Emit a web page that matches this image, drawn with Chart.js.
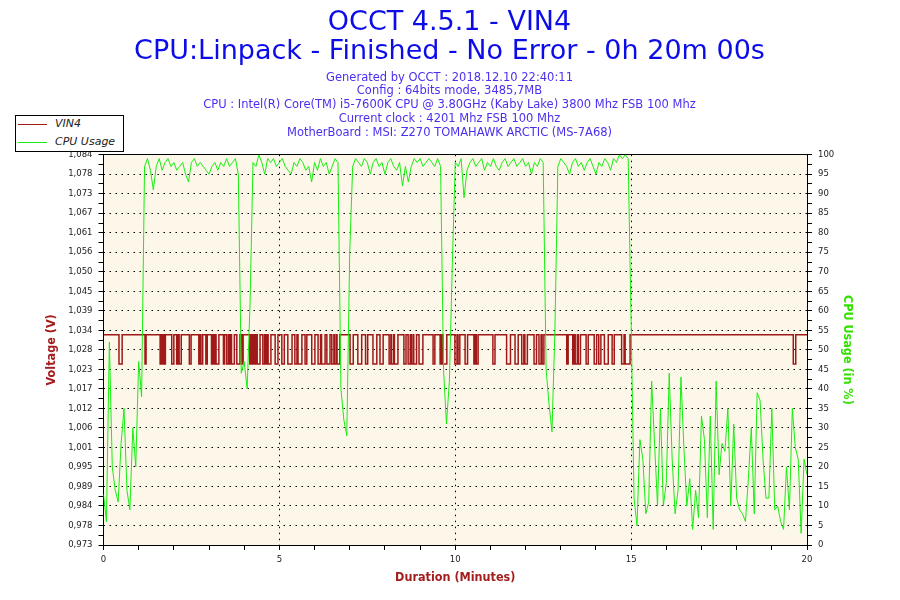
<!DOCTYPE html>
<html>
<head>
<meta charset="utf-8">
<title>OCCT 4.5.1 - VIN4</title>
<script src="https://cdn.jsdelivr.net/npm/chart.js@4.4.1/dist/chart.umd.min.js"></script>
<style>
  html, body { margin: 0; padding: 0; background: #fff; }
  #wrap { position: relative; width: 900px; height: 600px; }
  #legend {
    position: absolute; left: 15px; top: 115px; width: 107px; height: 35px;
    border: 1px solid #000; background: #fff;
    font: italic 11px "DejaVu Sans", sans-serif; color: #222;
  }
  #legend .row { position: absolute; left: 0; width: 100%; height: 14px; line-height: 14px; }
  #legend .swatch { position: absolute; left: 2px; top: 7px; width: 29px; height: 0; border-top: 1px solid; }
  #legend .label { position: absolute; left: 39px; top: 0; white-space: nowrap; }
</style>
</head>
<body>
<div id="wrap">
  <canvas id="vinChart"></canvas>
  <div id="legend">
    <div class="row" style="top:1px"><span class="swatch" style="border-color:#a01818"></span><span class="label">VIN4</span></div>
    <div class="row" style="top:19px"><span class="swatch" style="border-color:#16ee10"></span><span class="label">CPU Usage</span></div>
  </div>
</div>
<script>
// test length in minutes, one CPU sample every 5 seconds
const minutes = 20;
const cpuStepSec = 5;

// CPU usage (%), one row per minute
const cpuUsage = [
  13, 6, 52, 20, 14, 11, 26, 35, 14, 9, 30, 20,
  47, 38, 97, 99, 96, 91, 97, 99, 96, 98, 99, 97,
  98, 96, 97, 98, 95, 93, 98, 99, 97, 98, 97, 96,
  95, 97, 98, 96, 98, 97, 99, 97, 98, 99, 95, 44,
  47, 40, 62, 98, 97, 100, 98, 95, 99, 98, 99, 97,
  98, 99, 97, 96, 95, 98, 97, 99, 98, 96, 97, 93,
  98, 96, 99, 97, 98, 95, 97, 99, 98, 40, 32, 28,
  75, 97, 99, 98, 97, 99, 98, 95, 98, 99, 97, 98,
  95, 98, 99, 97, 96, 98, 92, 97, 93, 97, 99, 98,
  99, 97, 98, 99, 98, 97, 99, 97, 45, 31, 42, 72,
  98, 97, 99, 89, 96, 98, 99, 97, 98, 99, 96, 98,
  97, 99, 97, 96, 98, 99, 97, 98, 99, 97, 98, 99,
  97, 98, 95, 98, 97, 99, 98, 45, 36, 29, 55, 97,
  99, 98, 97, 95, 98, 99, 97, 98, 96, 98, 99, 97,
  95, 98, 97, 99, 98, 96, 99, 98, 100, 99, 100, 99,
  57, 12, 5, 27, 22, 8, 11, 42, 26, 10, 35, 10,
  16, 44, 22, 8, 14, 43, 25, 10, 17, 4, 14, 7,
  33, 27, 7, 33, 4, 42, 18, 26, 24, 35, 10, 31,
  12, 9, 8, 6, 17, 30, 8, 39, 37, 22, 12, 12,
  35, 9, 10, 6, 4, 20, 9, 35, 25, 22, 3, 22,
  18
];

// VIN4 sits at one of two readings; these are the spans (minutes) at the low one
const vinHigh = 1.0326;
const vinLow = 1.0243;
const vinDrops = [
  [0.44, 0.53],
  [1.18, 1.21], [1.61, 1.64], [1.66, 1.69], [1.72, 1.76], [1.94, 2.00],
  [2.08, 2.12], [2.15, 2.21], [2.44, 2.49], [2.71, 2.74], [2.77, 2.82], [2.91, 2.95],
  [3.07, 3.11], [3.13, 3.17], [3.20, 3.28], [3.41, 3.44], [3.50, 3.55], [3.58, 3.62],
  [3.64, 3.72], [3.79, 3.88], [3.93, 3.97],
  [4.16, 4.19], [4.22, 4.26], [4.29, 4.33], [4.37, 4.45], [4.53, 4.58], [4.61, 4.65],
  [4.68, 4.76], [4.88, 4.96],
  [5.07, 5.14], [5.24, 5.36], [5.44, 5.50], [5.53, 5.64], [5.73, 5.78], [5.92, 6.01],
  [6.10, 6.17], [6.20, 6.30], [6.35, 6.44], [6.49, 6.55], [6.57, 6.62], [6.64, 6.72],
  [7.01, 7.10], [7.23, 7.34], [7.45, 7.51], [7.66, 7.77], [7.86, 7.95],
  [8.12, 8.17], [8.19, 8.25], [8.27, 8.37], [8.54, 8.60], [8.66, 8.72], [8.75, 8.80],
  [8.82, 8.90], [8.97, 9.08],
  [9.37, 9.42], [9.57, 9.61], [9.65, 9.76], [9.99, 10.05], [10.08, 10.13], [10.28, 10.35],
  [10.53, 10.57], [10.60, 10.65],
  [11.07, 11.13], [11.46, 11.57], [11.70, 11.79], [11.89, 11.95], [11.98, 12.05],
  [12.24, 12.31], [12.38, 12.44], [12.47, 12.52], [13.17, 13.21], [13.34, 13.38],
  [13.41, 13.47], [13.50, 13.56], [13.72, 13.78], [13.95, 14.02],
  [14.08, 14.14], [14.24, 14.35], [14.46, 14.52], [14.73, 14.80], [14.83, 14.97],
  [19.61, 19.68]
];

// left axis range and its printed labels (bottom to top)
const voltMin = 0.9728;
const voltMax = 1.0838;
const voltTickLabels = [
  "0,973", "0,978", "0,984", "0,989", "0,995", "1,001", "1,006", "1,012", "1,017", "1,023",
  "1,028", "1,034", "1,039", "1,045", "1,050", "1,056", "1,061", "1,067", "1,073", "1,078", "1,084"
];

const titleLines = ["OCCT 4.5.1 - VIN4", "CPU:Linpack - Finished - No Error - 0h 20m 00s"];
const infoLines = [
  "Generated by OCCT : 2018.12.10 22:40:11",
  "Config : 64bits mode, 3485,7MB",
  "CPU : Intel(R) Core(TM) i5-7600K CPU @ 3.80GHz (Kaby Lake) 3800 Mhz FSB 100 Mhz",
  "Current clock : 4201 Mhz FSB 100 Mhz",
  "MotherBoard : MSI: Z270 TOMAHAWK ARCTIC (MS-7A68)"
];

const cpuPoints = cpuUsage.map((v, i) => ({ x: (i * cpuStepSec) / 60, y: v }));
const vinPoints = [{ x: 0, y: vinHigh }];
vinDrops.forEach(([a, b]) => {
  vinPoints.push({ x: a, y: vinLow }, { x: b, y: vinHigh });
});
vinPoints.push({ x: minutes, y: vinHigh });

const tickFont = { family: "DejaVu Sans", size: 8.5 };
const axisTitleFont = { family: "'Liberation Sans Narrow', 'DejaVu Sans Condensed', 'DejaVu Sans'", size: 12.5, weight: "bold" };
const dotted = [1.5, 4.5];
const clear = "rgba(0,0,0,0)";

// cream plot area like the OCCT graphs
const plotBackground = {
  id: "plotBackground",
  beforeDraw(chart) {
    const { ctx, chartArea: a } = chart;
    ctx.save();
    ctx.fillStyle = "#fdf7e9";
    ctx.fillRect(a.left, a.top, a.right - a.left, a.bottom - a.top);
    ctx.restore();
  },
};

Chart.defaults.font.family = "DejaVu Sans";

const ctx = document.getElementById("vinChart").getContext("2d");
new Chart(ctx, {
  type: "line",
  data: {
    datasets: [
      {
        label: "CPU Usage",
        data: cpuPoints,
        yAxisID: "yCpu",
        borderColor: "#16ee10",
        borderWidth: 1,
        pointRadius: 0,
        tension: 0,
      },
      {
        label: "VIN4",
        data: vinPoints,
        yAxisID: "yVolt",
        borderColor: "#a01818",
        borderWidth: 1.5,
        pointRadius: 0,
        stepped: true,
      },
    ],
  },
  options: {
    responsive: true,
    maintainAspectRatio: false,
    animation: false,
    events: [],
    layout: { padding: { left: 40, right: 41, top: 0, bottom: 10.5 } },
    plugins: {
      legend: { display: false },
      tooltip: { enabled: false },
      title: {
        display: true,
        text: titleLines,
        color: "#0c0ce8",
        font: { family: "DejaVu Sans", size: 27, weight: "normal", lineHeight: 1.05 },
        padding: { top: 9, bottom: 0 },
      },
      subtitle: {
        display: true,
        text: infoLines,
        color: "#4a30ee",
        font: { family: "DejaVu Sans", size: 11.5, lineHeight: 1.2 },
        padding: { top: 5, bottom: 15 },
      },
    },
    scales: {
      x: {
        type: "linear",
        min: 0,
        max: minutes,
        ticks: {
          stepSize: 1,
          autoSkip: false,
          maxRotation: 0,
          padding: 5,
          font: tickFont,
          color: "#222",
          callback: (v) => (v % 5 === 0 ? String(v) : ""),
        },
        grid: {
          color: (c) => (c.tick && [5, 10, 15].includes(c.tick.value) ? "#000" : clear),
          lineWidth: 1,
          tickColor: "#000",
          tickLength: 5,
        },
        border: { display: true, color: "#000", width: 1, dash: dotted },
        title: {
          display: true,
          text: "Duration (Minutes)",
          color: "#a31d1d",
          font: axisTitleFont,
          padding: { top: 4, bottom: 4 },
        },
        afterFit: (s) => { s.height = 44.5; },
      },
      yVolt: {
        type: "linear",
        position: "left",
        min: voltMin,
        max: voltMax,
        afterBuildTicks: (s) => {
          const ticks = [];
          for (let k = 0; k <= 40; k++) ticks.push({ value: voltMin + (k * (voltMax - voltMin)) / 40 });
          s.ticks = ticks;
        },
        ticks: {
          autoSkip: false,
          padding: 6,
          font: tickFont,
          color: "#222",
          callback: (v, i) => (i % 2 === 0 ? voltTickLabels[i / 2] : ""),
        },
        grid: { drawOnChartArea: false, tickColor: "#000", tickLength: 5 },
        border: { display: true, color: "#000", width: 1 },
        title: {
          display: true,
          text: "Voltage (V)",
          color: "#a31d1d",
          font: axisTitleFont,
          padding: { top: 4, bottom: 4 },
        },
        afterFit: (s) => { s.width = 63.5; },
      },
      yCpu: {
        type: "linear",
        position: "right",
        min: 0,
        max: 100,
        ticks: {
          stepSize: 2.5,
          autoSkip: false,
          padding: 6,
          font: tickFont,
          color: "#222",
          callback: (v) => (v % 5 === 0 ? String(v) : ""),
        },
        grid: {
          color: (c) => (c.tick && c.tick.value % 5 === 0 ? "#000" : clear),
          lineWidth: 1,
          tickColor: "#000",
          tickLength: 5,
        },
        border: {
          display: true,
          color: "#000",
          width: 1,
          dash: (c) => (c.tick && (c.tick.value === 0 || c.tick.value === 100) ? [] : dotted),
        },
        title: {
          display: true,
          text: "CPU Usage (in %)",
          color: "#33e000",
          font: axisTitleFont,
          padding: { top: 4, bottom: 4 },
        },
        afterFit: (s) => { s.width = 52; },
      },
    },
  },
  plugins: [plotBackground],
});
</script>
</body>
</html>
